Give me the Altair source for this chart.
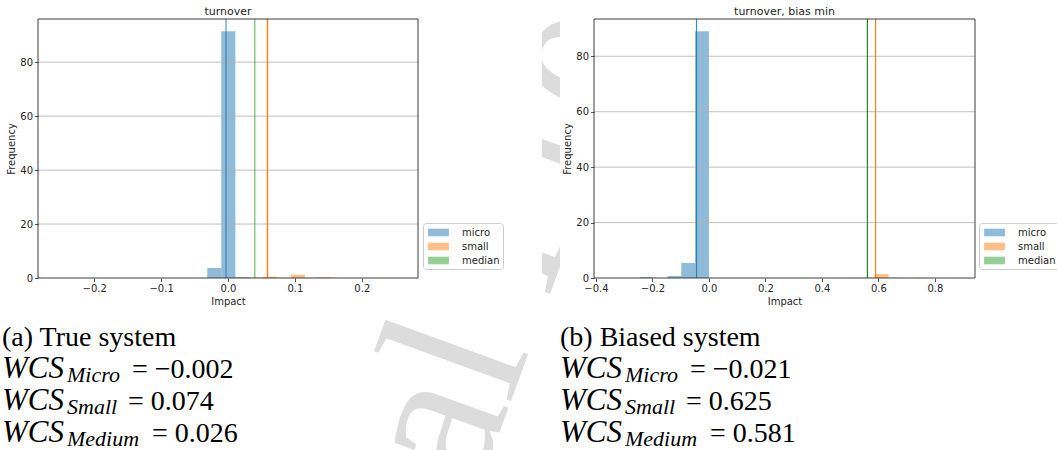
import altair as alt
import pandas as pd

# ---------------- data ----------------
SERIES = ["micro", "small", "median"]
SERIES_COLORS = ["#1f77b4", "#ff7f0e", "#2ca02c"]
X_TITLE = "Impact"
Y_TITLE = "Frequency"
YTICKS = [0, 20, 40, 60, 80]

# (a) left panel
L_TITLE = "turnover"
L_MICRO_EDGES = [-0.031, -0.010, 0.011, 0.032]
L_MICRO_COUNTS = [3.7, 91.5, 0.3]
L_SMALL_EDGES = [0.031, 0.052, 0.073, 0.094, 0.115, 0.135, 0.156]
L_SMALL_COUNTS = [0.1, 0.5, 0.1, 1.2, 0.1, 0.3]
L_LINE_X = [-0.003, 0.040, 0.059]          # micro, median, small
L_XTICKS = [-0.2, -0.1, 0.0, 0.1, 0.2]
L_XDOMAIN = [-0.284, 0.284]
L_YMAX = 96

# (b) right panel
R_TITLE = "turnover, bias min"
R_MICRO_EDGES = [-0.245, -0.196, -0.147, -0.098, -0.049, 0.0]
R_MICRO_COUNTS = [0.3, 0.0, 0.7, 5.4, 89.0]
R_SMALL_EDGES = [0.490, 0.538, 0.587, 0.636, 0.684, 0.733, 0.781]
R_SMALL_COUNTS = [0.1, 0.1, 1.4, 0.1, 0.0, 0.1]
R_LINE_X = [-0.044, 0.561, 0.590]          # micro, median, small
R_XTICKS = [-0.4, -0.2, 0.0, 0.2, 0.4, 0.6, 0.8]
R_XDOMAIN = [-0.407, 0.942]
R_YMAX = 93.45

# captions
CAP_A = "(a) True system"
CAP_B = "(b) Biased system"
WCS_NAME = "WCS"
WCS_SUBS = ["Micro", "Small", "Medium"]
WCS_A_VALUES = ["−0.002", "0.074", "0.026"]
WCS_B_VALUES = ["−0.021", "0.625", "0.581"]

WATERMARK = "Journal Pre-proof"

# ---------------- layout (pixels) ----------------
W_TOTAL, H = 937, 259
L_RANGE = [0, 380]
R_RANGE = [556, 937]
FONT = "DejaVu Sans"
SERIF = "Liberation Serif"
INK = "#262626"


def hist_df(edges, counts, series):
    return pd.DataFrame({"series": series, "x0": edges[:-1], "x1": edges[1:], "count": counts})


LEGEND_PATH = "M-1.6,-0.58L1.6,-0.58L1.6,0.58L-1.6,0.58Z"


def panel(hist, line_x, line_colors, line_opac, line_w, xdom, xrange, xticks, ymax,
          y_offset, title, legend_x):
    xs = alt.Scale(domain=xdom, range=xrange, nice=False, zero=False)
    ys = alt.Scale(domain=[0, ymax], nice=False, zero=False)
    x_axis = alt.Axis(orient="bottom", values=xticks, format=".1f", title=X_TITLE,
                      grid=False, domain=False, labelFlush=False, labelOverlap=False,
                      zindex=1)
    y_axis = alt.Axis(orient="left", offset=y_offset, values=YTICKS, title=Y_TITLE,
                      grid=False, domain=False, zindex=1)
    legend = alt.Legend(title=None, orient="none", legendX=legend_x, legendY=204,
                        direction="vertical", padding=3, rowPadding=2,
                        strokeColor="#cccccc", fillColor="white", cornerRadius=3,
                        symbolType=LEGEND_PATH, symbolSize=169, symbolOpacity=0.5,
                        symbolStrokeWidth=0, symbolOffset=6, labelOffset=17,
                        labelFont=FONT, labelFontSize=10, labelColor=INK, zindex=1)
    bars = alt.Chart(hist).mark_rect(opacity=0.5).encode(
        x=alt.X("x0:Q", scale=xs, axis=x_axis),
        x2="x1:Q",
        y=alt.Y("count:Q", scale=ys, axis=y_axis),
        y2=alt.Y2(datum=0),
        color=alt.Color("series:N", scale=alt.Scale(domain=SERIES, range=SERIES_COLORS),
                        legend=legend),
    )
    grid = alt.Chart(pd.DataFrame({"g": YTICKS[1:]})).mark_rule(
        color="#b0b0b0", strokeWidth=0.8).encode(
        y="g:Q", x=alt.X(datum=xdom[0]), x2=alt.X2(datum=xdom[1]))
    ldf = pd.DataFrame({"x": line_x, "c": line_colors, "o": line_opac})
    rules = alt.Chart(ldf).mark_rule(strokeWidth=line_w).encode(
        x="x:Q",
        stroke=alt.Stroke("c:N", scale=None),
        strokeOpacity=alt.StrokeOpacity("o:Q", scale=None),
    )
    one = pd.DataFrame({"k": [0]})
    frame = alt.Chart(one).mark_rect(fillOpacity=0, stroke=INK, strokeWidth=0.9).encode(
        x=alt.X(datum=xdom[0]), x2=alt.X2(datum=xdom[1]),
        y=alt.Y(datum=0), y2=alt.Y2(datum=ymax))
    ttl = alt.Chart(one).mark_text(font=FONT, fontSize=11, baseline="alphabetic",
                                   color=INK).encode(
        x=alt.X(datum=(xdom[0] + xdom[1]) / 2), y=alt.value(-4), text=alt.value(title))
    return alt.layer(bars, grid, rules, frame, ttl)


left_hist = pd.concat([hist_df(L_MICRO_EDGES, L_MICRO_COUNTS, "micro"),
                       hist_df(L_SMALL_EDGES, L_SMALL_COUNTS, "small")])
right_hist = pd.concat([hist_df(R_MICRO_EDGES, R_MICRO_COUNTS, "micro"),
                        hist_df(R_SMALL_EDGES, R_SMALL_COUNTS, "small")])

left = panel(left_hist, L_LINE_X, ["#1f77b4", "#2ca02c", "#ff7f0e"], [0.6, 0.55, 0.95], 1.5,
             L_XDOMAIN, L_RANGE, L_XTICKS, L_YMAX, 0, L_TITLE, 385)
right = panel(right_hist, R_LINE_X, ["#1f77b4", "#1f8a1f", "#ff7f0e"], [0.85, 1.0, 1.0], 1.2,
              R_XDOMAIN, R_RANGE, R_XTICKS, R_YMAX, -556, R_TITLE, 941)

# watermark + white figure backgrounds (pixel coordinates relative to plot origin)
wm = alt.Chart(pd.DataFrame({"t": [WATERMARK]})).mark_text(
    font=SERIF, fontSize=210, angle=290, align="left", baseline="alphabetic",
    color="#dcdcdc").encode(x=alt.value(280), y=alt.value(912), text="t:N")
covers = alt.Chart(pd.DataFrame({"x1": [-38, 522], "x2": [504, 1019],
                                 "y1": [-19, -19], "y2": [288, 288]})).mark_rect(
    fill="white").encode(
    x=alt.X("x1:Q", scale=None, axis=None), x2="x2:Q",
    y=alt.Y("y1:Q", scale=None, axis=None), y2="y2:Q")

# captions
CAP_X = {"a": -36, "b": 522}
BASE_Y = [327, 359, 391, 423]
SUB_DX, SUB_DY = 65, 4
EQ_DX = {"Micro": 130, "Small": 126, "Medium": 150}

rows_roman, rows_ital, rows_sub, rows_math = [], [], [], []
for key, cap, vals in (("a", CAP_A, WCS_A_VALUES), ("b", CAP_B, WCS_B_VALUES)):
    x0 = CAP_X[key]
    rows_roman.append({"t": cap, "px": x0, "py": BASE_Y[0]})
    for i, (sub, val) in enumerate(zip(WCS_SUBS, vals)):
        y0 = BASE_Y[i + 1]
        rows_ital.append({"t": WCS_NAME, "px": x0, "py": y0})
        rows_sub.append({"t": sub, "px": x0 + SUB_DX, "py": y0 + SUB_DY})
        rows_math.append({"t": "= " + val, "px": x0 + EQ_DX[sub], "py": y0})


def cap_layer(rows, size, style):
    return alt.Chart(pd.DataFrame(rows)).mark_text(
        font=SERIF, fontSize=size, fontStyle=style, align="left", baseline="alphabetic",
        color="black").encode(
        x=alt.X("px:Q", scale=None, axis=None), y=alt.Y("py:Q", scale=None, axis=None),
        text="t:N")


captions = alt.layer(cap_layer(rows_roman, 28, "normal"), cap_layer(rows_ital, 31, "italic"),
                     cap_layer(rows_sub, 22, "italic"), cap_layer(rows_math, 28, "normal"))

chart = alt.layer(wm, covers, left, right, captions).resolve_scale(
    x="independent", y="independent", color="independent"
).properties(
    width=W_TOTAL, height=H,
    padding={"left": 38, "top": 19, "right": 82, "bottom": 172},
    autosize=alt.AutoSizeParams(type="none"),
).configure_view(stroke="transparent").configure_axis(
    labelFont=FONT, labelFontSize=10, labelColor=INK, labelPadding=2,
    tickColor=INK, tickSize=3.5, tickWidth=0.8,
    titleFont=FONT, titleFontSize=10, titleFontWeight="normal", titleColor=INK,
    titlePadding=3,
)

chart.save("out.html", embed_options={"renderer": "svg", "actions": False})
